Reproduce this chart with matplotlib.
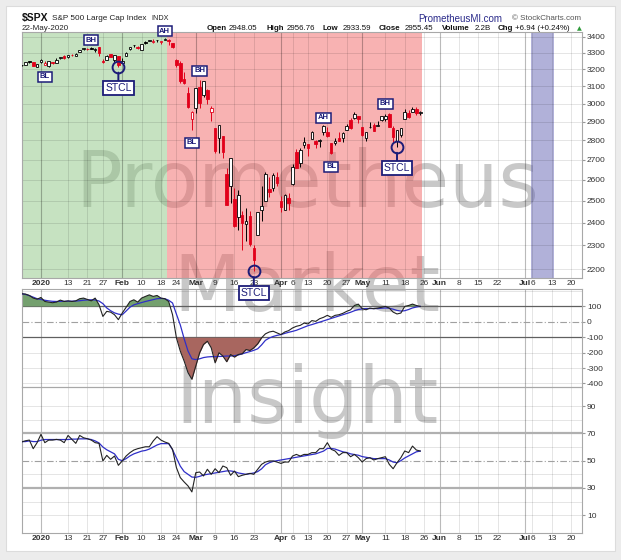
import numpy as np
import pandas as pd
import matplotlib
matplotlib.use('Agg')
import matplotlib.pyplot as plt
from matplotlib.patches import Rectangle
from matplotlib.ticker import NullLocator, NullFormatter

W, H = 621, 560

# ---------------- data ----------------
opens = [3225.45, 3227.20, 3247.23, 3240.09, 3215.18,
         3244.67, 3226.36, 3217.55, 3241.86, 3238.59, 3266.03, 3281.81, 3271.13, 3285.35, 3282.27,
         3302.97, 3323.66, 3321.03, 3330.02, 3315.77, 3333.10, 3247.16, 3255.35, 3289.46, 3256.45, 3282.33,
         3235.66, 3280.61, 3324.91, 3344.92, 3335.54, 3318.28, 3365.87, 3370.50, 3365.90, 3378.08,
         3369.04, 3380.39, 3380.45, 3360.50, 3257.61, 3238.94, 3139.90, 3062.54, 2916.90,
         2974.28, 3096.46, 3045.75, 3075.70, 2954.20, 2863.89, 2813.48, 2825.60, 2630.86, 2569.99,
         2508.59, 2425.66, 2436.50, 2393.48, 2431.94, 2290.71, 2344.44, 2457.77, 2501.29, 2555.87, 2558.98, 2614.69,
         2498.08, 2458.54, 2514.92, 2578.28, 2738.65, 2685.00, 2776.99, 2782.46, 2805.10, 2795.64, 2799.34,
         2842.43, 2845.62, 2784.81, 2787.89, 2810.42, 2812.64, 2854.65, 2909.96, 2918.46, 2930.91,
         2869.09, 2815.01, 2868.88, 2883.14, 2878.26, 2908.83, 2915.46, 2939.50, 2865.86, 2794.54, 2829.95,
         2913.86, 2948.59, 2953.63, 2969.95, 2948.05]
highs = [3226.43, 3240.08, 3247.93, 3240.92, 3231.72,
         3258.14, 3246.15, 3246.84, 3244.91, 3267.07, 3275.58, 3282.99, 3288.13, 3294.25, 3298.66,
         3317.11, 3329.88, 3329.79, 3337.77, 3326.88, 3333.18, 3258.85, 3285.78, 3293.47, 3285.91, 3282.33,
         3268.44, 3306.92, 3337.58, 3347.96, 3341.42, 3352.26, 3375.63, 3381.47, 3385.09, 3380.69,
         3375.01, 3393.52, 3385.15, 3360.76, 3259.81, 3246.99, 3182.51, 3097.07, 2959.72,
         3090.96, 3136.72, 3130.97, 3083.04, 2985.93, 2863.89, 2882.59, 2825.60, 2660.95, 2711.33,
         2562.98, 2553.93, 2453.57, 2466.97, 2453.01, 2300.73, 2449.71, 2571.42, 2637.01, 2615.91, 2631.80, 2641.39,
         2522.75, 2533.22, 2538.18, 2676.85, 2756.89, 2760.75, 2818.57, 2782.46, 2851.85, 2801.88, 2806.51,
         2879.22, 2868.98, 2785.54, 2815.10, 2844.90, 2842.71, 2887.72, 2921.15, 2954.86, 2930.91,
         2869.09, 2844.24, 2898.23, 2891.11, 2901.92, 2932.16, 2944.25, 2945.82, 2874.14, 2852.80, 2865.01,
         2968.09, 2964.21, 2980.29, 2978.50, 2956.76]
lows = [3220.51, 3227.20, 3234.37, 3216.57, 3212.03,
        3235.53, 3222.34, 3214.64, 3232.43, 3236.67, 3263.67, 3260.86, 3268.43, 3277.19, 3280.69,
        3302.82, 3318.86, 3316.61, 3320.04, 3301.87, 3281.53, 3234.50, 3253.22, 3271.89, 3242.80, 3214.68,
        3235.66, 3280.61, 3313.75, 3334.39, 3322.12, 3317.77, 3352.72, 3369.72, 3360.52, 3366.15,
        3355.61, 3378.83, 3350.51, 3328.45, 3214.65, 3118.77, 3108.99, 2977.39, 2855.84,
        2945.19, 2976.63, 3034.38, 2999.83, 2901.54, 2734.43, 2734.00, 2707.22, 2478.86, 2492.37,
        2380.94, 2367.04, 2280.52, 2319.78, 2295.56, 2191.86, 2344.44, 2407.53, 2500.72, 2520.02, 2545.28, 2571.15,
        2447.49, 2455.79, 2459.96, 2574.57, 2657.67, 2663.30, 2762.36, 2721.17, 2805.10, 2761.54, 2764.32,
        2830.88, 2820.43, 2727.10, 2775.95, 2794.26, 2791.76, 2852.89, 2860.71, 2912.16, 2892.47,
        2821.61, 2797.85, 2863.55, 2847.65, 2876.48, 2902.88, 2903.44, 2869.59, 2793.15, 2766.64, 2816.78,
        2913.86, 2922.35, 2953.63, 2938.57, 2933.59]
closes = [3223.38, 3239.91, 3240.02, 3221.29, 3230.78,
          3257.85, 3234.85, 3246.28, 3237.18, 3253.05, 3274.70, 3265.35, 3288.13, 3283.15, 3289.29,
          3316.81, 3329.62, 3320.79, 3321.75, 3325.54, 3295.47, 3243.63, 3276.24, 3273.40, 3283.66, 3225.52,
          3248.92, 3297.59, 3334.69, 3345.78, 3327.71, 3352.09, 3357.75, 3379.45, 3373.94, 3380.16,
          3370.29, 3386.15, 3373.23, 3337.75, 3225.89, 3128.21, 3116.39, 2978.76, 2954.22,
          3090.23, 3003.37, 3130.12, 3023.94, 2972.37, 2746.56, 2882.23, 2741.38, 2480.64, 2711.02,
          2386.13, 2529.19, 2398.10, 2409.39, 2304.92, 2237.40, 2447.33, 2475.56, 2630.07, 2541.47, 2626.65, 2584.59,
          2470.50, 2526.90, 2488.65, 2663.68, 2659.41, 2749.98, 2789.82, 2761.63, 2846.06, 2783.36, 2799.55,
          2874.56, 2823.16, 2736.56, 2799.31, 2797.80, 2836.74, 2878.48, 2863.39, 2939.51, 2912.43,
          2830.71, 2842.74, 2868.44, 2848.42, 2881.19, 2929.80, 2930.32, 2870.12, 2820.00, 2852.50, 2863.70,
          2953.91, 2922.94, 2971.61, 2948.51, 2955.45]

cci = [182, 180, 171, 154, 147, 158, 132, 128, 124, 128,
       141, 132, 136, 132, 136, 150, 154, 145, 136, 154,
       111, 35, 68, 63, 46, 14, 57, 94, 132, 143,
       128, 154, 165, 175, 165, 171, 154, 150, 132, 46,
       -104, -190, -255, -330, -373, -287, -201, -147, -126, -169,
       -266, -201, -222, -259, -212, -229, -212, -207, -180, -186,
       -169, -143, -104, -78, -66, -61, -72, -83, -66, -57,
       -40, -29, -23, -8, -14, 8, 3, 20, 29, 42,
       29, 42, 46, 55, 68, 78, 106, 115, 85, 78,
       89, 85, 89, 94, 100, 89, 63, 51, 57, 100,
       106, 115, 106, 100]
cci_ma = [182, 178, 170, 160, 150, 145, 140, 136, 133, 132,
          133, 133, 134, 134, 135, 137, 140, 142, 143, 142,
          135, 118, 90, 72, 58, 50, 46, 70, 95, 110,
          118, 125, 132, 138, 144, 150, 152, 150, 140, 122,
          50, -20, -110, -190, -240, -245, -240, -232, -228, -226,
          -226, -225, -224, -222, -222, -220, -215, -208, -200, -193,
          -185, -175, -150, -120, -105, -95, -88, -83, -75, -68,
          -62, -55, -45, -35, -25, -18, -10, -2, 6, 14,
          22, 30, 38, 46, 54, 62, 72, 80, 84, 86,
          86, 86, 86, 88, 90, 88, 82, 74, 70, 72,
          80, 90, 96, 100]
rsi = [63.7, 64.6, 65.1, 58.8, 63.2, 69.3, 63.2, 65.1, 65.1, 65.6,
       65.1, 63.2, 68.5, 65.6, 62.7, 68.5, 66.8, 66.1, 65.1, 63.2,
       62.7, 49.8, 53.9, 51.0, 53.4, 46.6, 49.8, 53.4, 55.9, 57.8,
       58.8, 59.5, 60.2, 60.2, 64.4, 67.6, 65.1, 63.7, 62.7, 58.3,
       44.9, 37.6, 34.4, 31.5, 27.1, 41.2, 41.7, 38.8, 43.7, 40.0,
       44.1, 41.2, 46.1, 44.9, 39.3, 42.4, 38.3, 39.3, 40.0, 40.7,
       40.0, 43.7, 47.3, 49.0, 49.8, 49.8, 49.0, 48.0, 49.0, 49.0,
       53.4, 54.6, 53.4, 54.6, 54.6, 55.9, 55.9, 58.8, 58.8, 63.2,
       58.3, 57.1, 53.9, 55.9, 55.9, 52.9, 54.6, 52.2, 49.0, 51.5,
       52.2, 50.5, 51.5, 52.2, 52.9, 47.3, 44.1, 48.5, 52.2, 57.1,
       55.9, 60.7, 57.8, 57.1]
rsi_ma = [64, 64, 64.5, 64, 64, 65, 65.5, 65.5, 65.5, 65.5,
          65.5, 65.5, 65.5, 65.8, 65.8, 66, 66, 66, 65.5, 64.5,
          63, 60, 58, 56.5, 55, 51, 50, 51.5, 53.5, 55,
          56, 57, 57.5, 58.5, 60, 61.5, 62.5, 62.5, 62.5, 58,
          52, 46, 42, 40, 38, 37.8, 38.5, 39.5, 40, 40.5,
          41, 41.5, 42, 42.5, 42.5, 42, 41, 40.5, 40, 40.5,
          41, 42, 44, 47, 48.5, 49.5, 50, 50.5, 51, 51.5,
          52, 52.5, 53, 53.5, 54, 54.5, 55, 56, 57, 59,
          59, 58.5, 57.5, 56.5, 56, 55, 54.5, 54, 53, 52.5,
          52, 51.5, 51.5, 51.5, 51.5, 50.5, 49, 48.5, 50, 52,
          53.5, 55, 56.5, 57]

tick_dates = ['2020-01-02', '2020-01-13', '2020-01-21', '2020-01-27', '2020-02-03', '2020-02-10',
              '2020-02-18', '2020-02-24', '2020-03-02', '2020-03-09', '2020-03-16', '2020-03-23',
              '2020-04-01', '2020-04-06', '2020-04-13', '2020-04-20', '2020-04-27', '2020-05-01',
              '2020-05-11', '2020-05-18', '2020-05-26', '2020-06-01', '2020-06-08', '2020-06-15',
              '2020-06-22', '2020-07-01', '2020-07-06', '2020-07-13', '2020-07-20']
tick_labels = ['2020', '13', '21', '27', 'Feb', '10', '18', '24', 'Mar', '9', '16', '23',
               'Apr', '6', '13', '20', '27', 'May', '11', '18', '26', 'Jun', '8', '15', '22',
               'Jul', '6', '13', '20']
month_labels = {'2020', 'Feb', 'Mar', 'Apr', 'May', 'Jun', 'Jul'}
price_ticks = list(range(2200, 3401, 100))
cci_ticks = [100, 0, -100, -200, -300, -400]
rsi_ticks = [90, 70, 50, 30, 10]

zone_starts = ['2019-12-23', '2020-02-20', '2020-07-06']
zone_ends = ['2020-02-19', '2020-05-22', '2020-07-13']
zone_colors = ['#8fc785', '#f36767', '#6565b5']

label_text = ['BL', 'BH', 'AH', 'BH', 'BL', 'AH', 'BL', 'BH']
label_dates = ['2020-01-03', '2020-01-22', '2020-02-19', '2020-03-03', '2020-02-28',
               '2020-04-17', '2020-04-21', '2020-05-11']
label_prices = [3153, 3379, 3436, 3189, 2787, 2921, 2664, 2998]
stcl_dates = ['2020-01-31', '2020-03-23', '2020-05-14']
stcl_prices = [3214.68, 2191.86, 2766.64]

# ---------------- trading calendar ----------------
hol = pd.to_datetime(['2019-12-25', '2020-01-01', '2020-01-20', '2020-02-17',
                      '2020-04-10', '2020-05-25', '2020-07-03'])
cal = pd.bdate_range('2019-12-16', '2020-07-31')
cal_list = [d for d in cal if d not in set(hol)]
i0 = cal_list.index(pd.Timestamp('2020-01-02'))


def pos(d):
    return cal_list.index(pd.Timestamp(d)) - i0


dates = [d for d in cal_list if pd.Timestamp('2019-12-24') <= d <= pd.Timestamp('2020-05-22')]
xs = np.array([pos(d) for d in dates], dtype=float)
o = np.array(opens); h = np.array(highs); l = np.array(lows); c = np.array(closes)

# ---------------- figure ----------------
plt.rcParams['font.family'] = ['Liberation Sans', 'DejaVu Sans']
fig = plt.figure(figsize=(W / 100, H / 100), dpi=100)
fig.patch.set_facecolor('#ececec')
fig.add_artist(Rectangle((6 / W, 1 - 551 / H), 609 / W, 545 / H, transform=fig.transFigure,
                         facecolor='white', edgecolor='#dcdcdc', lw=0.8, zorder=-10))


def px_rect(x0, y0, x1, y1):
    return [x0 / W, 1 - y1 / H, (x1 - x0) / W, (y1 - y0) / H]


def ftext(x, y, s, **kw):
    fig.text(x / W, 1 - y / H, s, **kw)


ax = fig.add_axes(px_rect(22, 32, 582, 278))
axc = fig.add_axes(px_rect(22, 289, 582, 387))
axr = fig.add_axes(px_rect(22, 387, 582, 533))
ax.set_zorder(5)
axc.set_zorder(2)
axr.set_zorder(1)

tick_pos = [pos(d) for d in tick_dates]
XL = (-4.9, 139.8)
navy = '#1c1c78'
red = '#e2001a'

for a in (ax, axc, axr):
    a.set_facecolor('none')
    a.set_xlim(*XL)
    for s in a.spines.values():
        s.set_color('#a8a8a8')
        s.set_linewidth(0.8)
    for p, lab in zip(tick_pos, tick_labels):
        if lab in month_labels:
            a.axvline(p, color=(0, 0, 0, 0.27), lw=0.8, zorder=1)
        else:
            a.axvline(p, color=(0, 0, 0, 0.12), lw=0.6, zorder=1)
    a.set_xticks(tick_pos)
    a.yaxis.tick_right()
    a.tick_params(axis='y', which='major', length=2.5, pad=1, labelsize=6,
                  color='#999999', labelcolor='#333333')
    a.tick_params(axis='x', length=0, pad=1.5, labelsize=6, labelcolor='#333333')

for a in (ax, axr):
    a.set_xticklabels(tick_labels)
    for t in a.get_xticklabels():
        if t.get_text() in month_labels:
            t.set_fontweight('bold')
axc.tick_params(axis='x', labelbottom=False)

# ---- main price panel ----
ax.set_yscale('log')
ax.set_ylim(2164, 3430)
for z0, z1, col in zip(zone_starts, zone_ends, zone_colors):
    ax.axvspan(pos(z0) - 0.5, pos(z1) + 0.5, color=col, alpha=0.5, lw=0, zorder=0.5)
for v in price_ticks:
    ax.axhline(v, color=(0, 0, 0, 0.12), lw=0.6, zorder=1)
ax.set_yticks(price_ticks)
ax.set_yticklabels([str(v) for v in price_ticks])
ax.yaxis.set_minor_locator(NullLocator())
ax.yaxis.set_minor_formatter(NullFormatter())

prev = np.concatenate([[c[0]], c[:-1]])
edge_cols = ['black' if c[i] >= prev[i] else red for i in range(len(c))]
face_cols = ['white' if c[i] > o[i] else edge_cols[i] for i in range(len(c))]
ax.vlines(xs, l, h, colors=edge_cols, lw=0.7, zorder=3)
body_h = np.maximum(np.abs(c - o), 0.8)
ax.bar(xs, body_h, bottom=np.minimum(o, c), width=0.66, color=face_cols,
       edgecolor=edge_cols, linewidth=0.6, zorder=4)

for t, d, p in zip(label_text, label_dates, label_prices):
    ax.text(pos(d), p, t, ha='center', va='center', fontsize=5.5, fontweight='bold',
            color=navy, zorder=8, clip_on=False,
            bbox=dict(boxstyle='square,pad=0.22', fc='white', ec=navy, lw=1.1))
for d, p in zip(stcl_dates, stcl_prices):
    ax.plot([pos(d)], [p], 'o', ms=8.5, mfc='none', mec=navy, mew=1.4, zorder=8, clip_on=False)
    ax.annotate('STCL', xy=(pos(d), p), xytext=(0, -15.5), textcoords='offset points',
                ha='center', va='center', fontsize=7.5, color=navy, zorder=9,
                annotation_clip=False,
                bbox=dict(boxstyle='square,pad=0.2', fc='white', ec=navy, lw=1.3),
                arrowprops=dict(arrowstyle='-', color=navy, lw=1.4, shrinkA=0, shrinkB=4.3))

# ---- CCI panel ----
cci_a = np.array(cci, dtype=float)
axc.set_ylim(-423, 213)
for v in (200, -200, -300, -400):
    axc.axhline(v, color=(0, 0, 0, 0.12), lw=0.6, zorder=1)
axc.axhline(100, color='#606060', lw=0.9, zorder=1.5)
axc.axhline(-100, color='#606060', lw=0.9, zorder=1.5)
axc.axhline(0, color='#a0a0a0', lw=0.8, dashes=(6, 2, 1, 2), zorder=1.5)
axc.fill_between(xs, cci_a, 100, where=cci_a >= 100, interpolate=True,
                 color='#74a06e', lw=0, zorder=2)
axc.fill_between(xs, cci_a, -100, where=cci_a <= -100, interpolate=True,
                 color='#a8665f', lw=0, zorder=2)
axc.plot(xs, cci_ma, color='#2f2fc8', lw=0.9, zorder=3)
axc.plot(xs, cci_a, color='#222222', lw=0.8, zorder=4)
axc.set_yticks(cci_ticks)
axc.set_yticklabels([str(v) for v in cci_ticks])

# ---- RSI panel ----
axr.set_ylim(-3, 104)
for v in (90, 80, 60, 40, 20, 10):
    axr.axhline(v, color=(0, 0, 0, 0.12), lw=0.6, zorder=1)
axr.axhline(70, color='#b0b0b0', lw=1.6, zorder=1.5)
axr.axhline(30, color='#b0b0b0', lw=1.6, zorder=1.5)
axr.axhline(50, color='#a0a0a0', lw=0.8, dashes=(6, 2, 1, 2), zorder=1.5)
axr.plot(xs, rsi_ma, color='#2f2fc8', lw=0.9, zorder=3)
axr.plot(xs, rsi, color='#222222', lw=0.8, zorder=4)
axr.set_yticks(rsi_ticks)
axr.set_yticklabels([str(v) for v in rsi_ticks])

# ---- watermark ----
for word, base in zip(['Prometheus', 'Market', 'Insight'], [207, 311, 423]):
    fig.text(307 / W, 1 - base / H, word, ha='center', va='baseline', fontsize=56,
             family='DejaVu Sans', color='#4a4a4a', alpha=0.3, zorder=-5)

# ---- header ----
ftext(22, 18.5, '\\$SPX', fontsize=7.5, fontweight='bold', va='center', color='#111111')
ftext(52, 18.5, 'S&P 500 Large Cap Index', fontsize=5.9, va='center', color='#222222')
ftext(151, 18.5, 'INDX', fontsize=5.2, va='center', color='#222222')
ftext(22, 28.5, dates[-1].strftime('%d-%b-%Y'), fontsize=5.8, va='center', color='#222222')
chg = c[-1] - c[-2]
pct = chg / c[-2] * 100
pieces = [('Open', 207, True), (f'{o[-1]:.2f}', 228.5, False),
          ('High', 266.5, True), (f'{h[-1]:.2f}', 287, False),
          ('Low', 322.5, True), (f'{l[-1]:.2f}', 342.5, False),
          ('Close', 379, True), (f'{c[-1]:.2f}', 405, False),
          ('Volume', 441.5, True), ('2.2B', 475, False),
          ('Chg', 498, True), (f'{chg:+.2f} ({pct:+.2f}%)', 515, False)]
for s, xp, b in pieces:
    ftext(xp, 28.5, s, fontsize=5.7, fontweight='bold' if b else 'normal', va='center',
          color='#111111')
ftext(577, 28.5, '\u25b2', fontsize=4.5, va='center', color='#2e9a3a', family='DejaVu Sans')
ftext(418, 18.5, 'PrometheusMI.com', fontsize=7, va='center', color='#2a2a8a')
ftext(512.5, 18.5, '\u00a9 StockCharts.com', fontsize=5.8, va='center', color='#555555')

fig.savefig('out.png', dpi=100, facecolor=fig.get_facecolor())
